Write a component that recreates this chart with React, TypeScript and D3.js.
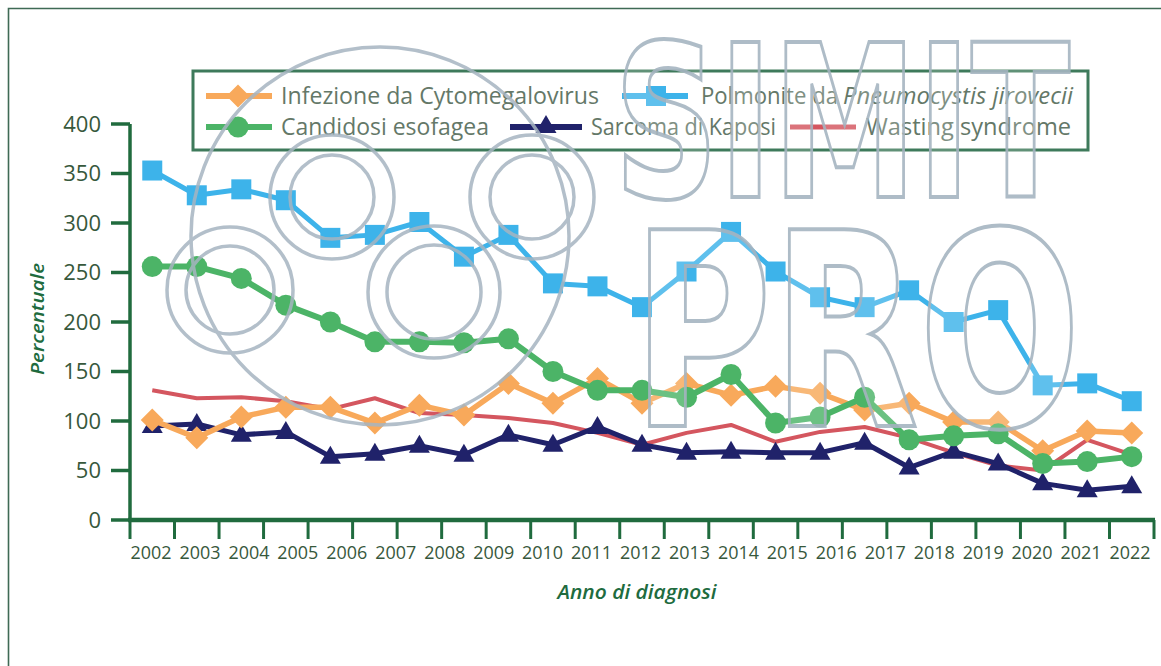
import React from "react";
import * as d3 from "d3";

// ---------- data ----------
const years = ["2002","2003","2004","2005","2006","2007","2008","2009","2010","2011","2012","2013","2014","2015","2016","2017","2018","2019","2020","2021","2022"];
const yTicks = [0, 50, 100, 150, 200, 250, 300, 350, 400];

const cmv = [101, 83, 104, 114, 114, 98, 116, 106, 138, 118, 143, 118, 138, 126, 135, 128, 111, 118, 99, 99, 70, 90, 88];
const pcp = [353, 328, 334, 323, 285, 288, 301, 266, 288, 239, 236, 215, 251, 291, 251, 225, 215, 232, 200, 212, 136, 138, 120];
const candida = [256, 256, 244, 217, 200, 180, 180, 179, 183, 150, 131, 131, 124, 147, 98, 104, 124, 81, 85, 87, 57, 59, 64];
const kaposi = [95, 97, 86, 89, 64, 67, 75, 66, 86, 76, 94, 76, 68, 69, 68, 68, 78, 53, 69, 57, 37, 30, 34];
const wasting = [131, 123, 124, 120, 112, 123, 108, 106, 103, 98, 88, 76, 88, 96, 79, 89, 94, 83, 68, 55, 50, 81, 66];

const C = {
  orange: "#f8a95b",
  blue: "#3db3ea",
  green: "#4cb467",
  navy: "#20226a",
  red: "#d4565f",
  axis: "#206b3e",
  tickText: "#37583c",
  legendText: "#647868",
  wm: "#a6b5c1",
};

const FONT = "'Open Sans', 'Noto Sans', sans-serif";

type Marker = "diamond" | "square" | "circle" | "triangle" | "none";

function markerPath(kind: Marker, cx: number, cy: number): string {
  if (kind === "diamond") {
    const r = 11.5;
    return `M${cx},${cy - r}L${cx + r},${cy}L${cx},${cy + r}L${cx - r},${cy}Z`;
  }
  if (kind === "square") {
    const h = 10;
    return `M${cx - h},${cy - h}H${cx + h}V${cy + h}H${cx - h}Z`;
  }
  if (kind === "triangle") {
    return `M${cx},${cy - 11}L${cx + 10.5},${cy + 7}L${cx - 10.5},${cy + 7}Z`;
  }
  return "";
}

function MarkerShape({ kind, cx, cy, color }: { kind: Marker; cx: number; cy: number; color: string }) {
  if (kind === "none") return null;
  if (kind === "circle") return <circle cx={cx} cy={cy} r={10.5} fill={color} />;
  return <path d={markerPath(kind, cx, cy)} fill={color} />;
}

export default function App() {
  const W = 1161, H = 666;
  const x = d3.scaleBand<number>().domain(d3.range(cmv.length)).range([130, 1154]).paddingInner(0).paddingOuter(0);
  const xc = (i: number) => (x(i) as number) + x.bandwidth() / 2;
  const y = d3.scaleLinear().domain([0, 400]).range([520, 124]);
  const yearPos = d3.scalePoint<string>().domain(years).range([151, 1130]);

  const line = d3.line<number>().x((_, i) => xc(i)).y((v) => y(v));

  const series: { name: string; data: number[]; color: string; marker: Marker; width: number }[] = [
    { name: "Wasting syndrome", data: wasting, color: C.red, marker: "none", width: 4 },
    { name: "Sarcoma di Kaposi", data: kaposi, color: C.navy, marker: "triangle", width: 5 },
    { name: "Infezione da Cytomegalovirus", data: cmv, color: C.orange, marker: "diamond", width: 5.5 },
    { name: "Candidosi esofagea", data: candida, color: C.green, marker: "circle", width: 6 },
    { name: "Polmonite da Pneumocystis jirovecii", data: pcp, color: C.blue, marker: "square", width: 5 },
  ];

  const tickEdges = [...d3.range(cmv.length).map((i) => x(i) as number), 1154];

  return (
    <svg width={W} height={H} style={{ position: "absolute", left: 0, top: 0, background: "#fff" }} fontFamily={FONT}>
      <rect x={0} y={0} width={W} height={H} fill="#fff" />
      {/* frame */}
      <path d={`M8.5,${H}V8.5H${W}`} fill="none" stroke="#3f6a55" strokeWidth={1.6} />

      {/* y axis */}
      <line x1={130} x2={130} y1={y(400)} y2={y(0)} stroke={C.axis} strokeWidth={3.5} />
      {yTicks.map((t) => (
        <g key={t}>
          <line x1={111} x2={130} y1={y(t)} y2={y(t)} stroke={C.axis} strokeWidth={3.5} />
          <text x={101} y={y(t)} dy="0.36em" textAnchor="end" fontSize={22} fill={C.tickText}>{t}</text>
        </g>
      ))}
      <text transform={`translate(44,319) rotate(-90)`} textAnchor="middle" fontSize={18} fontStyle="italic" fontWeight={600} fill={C.axis} textLength={112} lengthAdjust="spacingAndGlyphs">Percentuale</text>

      {/* x axis */}
      <line x1={128} x2={1155} y1={520} y2={520} stroke={C.axis} strokeWidth={4.5} />
      {tickEdges.map((e, i) => (
        <line key={i} x1={e} x2={e} y1={520} y2={539} stroke={C.axis} strokeWidth={3} />
      ))}
      {years.map((yr) => (
        <text key={yr} x={yearPos(yr)} y={559} textAnchor="middle" fontSize={17.5} fill={C.tickText} textLength={41} lengthAdjust="spacingAndGlyphs">{yr}</text>
      ))}
      <text x={637} y={599} textAnchor="middle" fontSize={19} fontStyle="italic" fontWeight={600} fill={C.axis} textLength={159} lengthAdjust="spacingAndGlyphs">Anno di diagnosi</text>

      {/* series */}
      {series.map((s) => (
        <g key={s.name}>
          <path d={line(s.data) || ""} fill="none" stroke={s.color} strokeWidth={s.width} strokeLinejoin="round" />
          {s.data.map((v, i) => (
            <MarkerShape key={i} kind={s.marker} cx={xc(i)} cy={y(v)} color={s.color} />
          ))}
        </g>
      ))}

      {/* legend */}
      <rect x={193} y={71} width={895} height={79} fill="#fff" fillOpacity={0.75} stroke="#3e7a5b" strokeWidth={3} />
      {/* row 1 */}
      <line x1={206} x2={272} y1={96} y2={96} stroke={C.orange} strokeWidth={6} />
      <MarkerShape kind="diamond" cx={238} cy={96} color={C.orange} />
      <text x={281} y={104} fontSize={23} fill={C.legendText} textLength={318} lengthAdjust="spacingAndGlyphs">Infezione da Cytomegalovirus</text>
      <line x1={622} x2={688} y1={96} y2={96} stroke={C.blue} strokeWidth={6} />
      <MarkerShape kind="square" cx={656} cy={96} color={C.blue} />
      <text x={701} y={104} fontSize={23} fill={C.legendText} textLength={137} lengthAdjust="spacingAndGlyphs">Polmonite da</text>
      <text x={843} y={104} fontSize={23} fontStyle="italic" fill={C.legendText} textLength={230} lengthAdjust="spacingAndGlyphs">Pneumocystis jirovecii</text>
      {/* row 2 */}
      <line x1={206} x2={272} y1={127} y2={127} stroke={C.green} strokeWidth={6} />
      <MarkerShape kind="circle" cx={238} cy={127} color={C.green} />
      <text x={281} y={135} fontSize={23} fill={C.legendText} textLength={208} lengthAdjust="spacingAndGlyphs">Candidosi esofagea</text>
      <line x1={510} x2={582} y1={127} y2={127} stroke={C.navy} strokeWidth={6} />
      <MarkerShape kind="triangle" cx={546} cy={126} color={C.navy} />
      <text x={591} y={135} fontSize={23} fill={C.legendText} textLength={185} lengthAdjust="spacingAndGlyphs">Sarcoma di Kaposi</text>
      <line x1={790} x2={856} y1={127} y2={127} stroke={C.red} strokeWidth={5} />
      <text x={866} y={135} fontSize={23} fill={C.legendText} textLength={205} lengthAdjust="spacingAndGlyphs">Wasting syndrome</text>

      {/* watermark */}
      <g fill="none" stroke={C.wm} strokeWidth={3.5} opacity={0.85}>
        <circle cx={380} cy={236} r={189} />
        <circle cx={332} cy={197} r={62} />
        <circle cx={332} cy={197} r={42} />
        <circle cx={532} cy={197} r={62} />
        <circle cx={532} cy={197} r={42} />
        <circle cx={230} cy={290} r={63} />
        <circle cx={230} cy={290} r={44} />
        <circle cx={434} cy={292} r={66} />
        <circle cx={434} cy={292} r={47} />
      </g>
      <g fill="#fff" fillOpacity={0.2} stroke={C.wm} strokeWidth={4} opacity={0.9} fontFamily="'DejaVu Sans', sans-serif" fontWeight={700}>
        <text x={614} y={197} fontSize={213} textLength={456} lengthAdjust="spacingAndGlyphs">SIMIT</text>
        <text x={632} y={426} fontSize={270} textLength={449} lengthAdjust="spacingAndGlyphs">PRO</text>
      </g>
    </svg>
  );
}
